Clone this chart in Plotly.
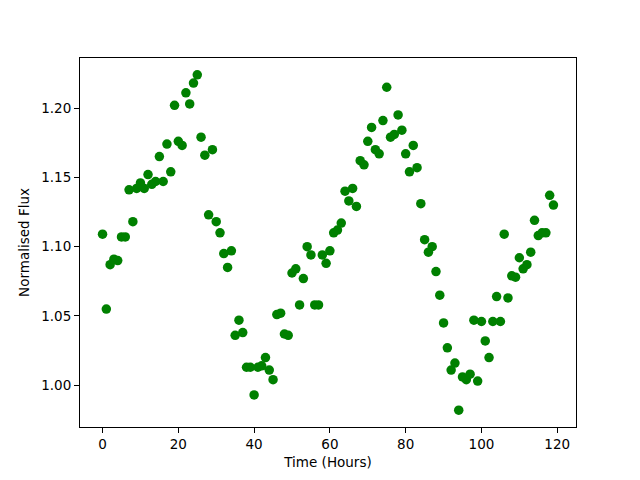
import plotly.graph_objects as go

hours = list(range(120))
flux = [
    1.109, 1.055, 1.087, 1.091, 1.090, 1.107, 1.107, 1.141, 1.118, 1.142,
    1.146, 1.142, 1.152, 1.145, 1.147, 1.165, 1.147, 1.174, 1.154, 1.202,
    1.176, 1.173, 1.211, 1.203, 1.218, 1.224, 1.179, 1.166, 1.123, 1.170,
    1.118, 1.110, 1.095, 1.085, 1.097, 1.036, 1.047, 1.038, 1.013, 1.013,
    0.993, 1.013, 1.014, 1.020, 1.011, 1.004, 1.051, 1.052, 1.037, 1.036,
    1.081, 1.084, 1.058, 1.077, 1.100, 1.094, 1.058, 1.058, 1.094, 1.088,
    1.097, 1.110, 1.112, 1.117, 1.140, 1.133, 1.142, 1.129, 1.162, 1.159,
    1.176, 1.186, 1.170, 1.167, 1.191, 1.215, 1.179, 1.181, 1.195, 1.184,
    1.167, 1.154, 1.173, 1.157, 1.131, 1.105, 1.096, 1.100, 1.082, 1.065,
    1.045, 1.027, 1.011, 1.016, 0.982, 1.006, 1.004, 1.008, 1.047, 1.003,
    1.046, 1.032, 1.020, 1.046, 1.064, 1.046, 1.109, 1.063, 1.079, 1.078,
    1.092, 1.084, 1.087, 1.096, 1.119, 1.108, 1.110, 1.110, 1.137, 1.130,
]
x_ticks = [0, 20, 40, 60, 80, 100, 120]
y_ticks = [1.00, 1.05, 1.10, 1.15, 1.20]
y_tick_labels = ["1.00", "1.05", "1.10", "1.15", "1.20"]

fig = go.Figure(go.Scatter(
    x=hours, y=flux, mode="markers",
    marker=dict(color="#008000", size=9.5, line=dict(width=0)),
))

span_x = max(hours) - min(hours)
span_y = max(flux) - min(flux)
font = dict(family="DejaVu Sans", size=13.5, color="black")
axis_common = dict(
    showline=True, linecolor="black", linewidth=1, mirror=True,
    ticks="outside", ticklen=5, tickcolor="black", tickwidth=1,
    showgrid=False, zeroline=False,
    tickfont=font,
)
fig.update_xaxes(
    range=[min(hours) - 0.05 * span_x, max(hours) + 0.05 * span_x],
    tickvals=x_ticks,
    title=dict(text="Time (Hours)", font=font, standoff=6),
    **axis_common,
)
fig.update_yaxes(
    range=[min(flux) - 0.05 * span_y, max(flux) + 0.05 * span_y],
    tickvals=y_ticks, ticktext=y_tick_labels,
    title=dict(text="Normalised Flux", font=font, standoff=8),
    **axis_common,
)
fig.update_layout(
    width=640, height=480,
    margin=dict(l=80, r=64, t=58, b=53),
    plot_bgcolor="white", paper_bgcolor="white",
    showlegend=False,
)
fig.write_html("out.html", config={"displayModeBar": False},
               post_script="document.body.style.margin='0';")
